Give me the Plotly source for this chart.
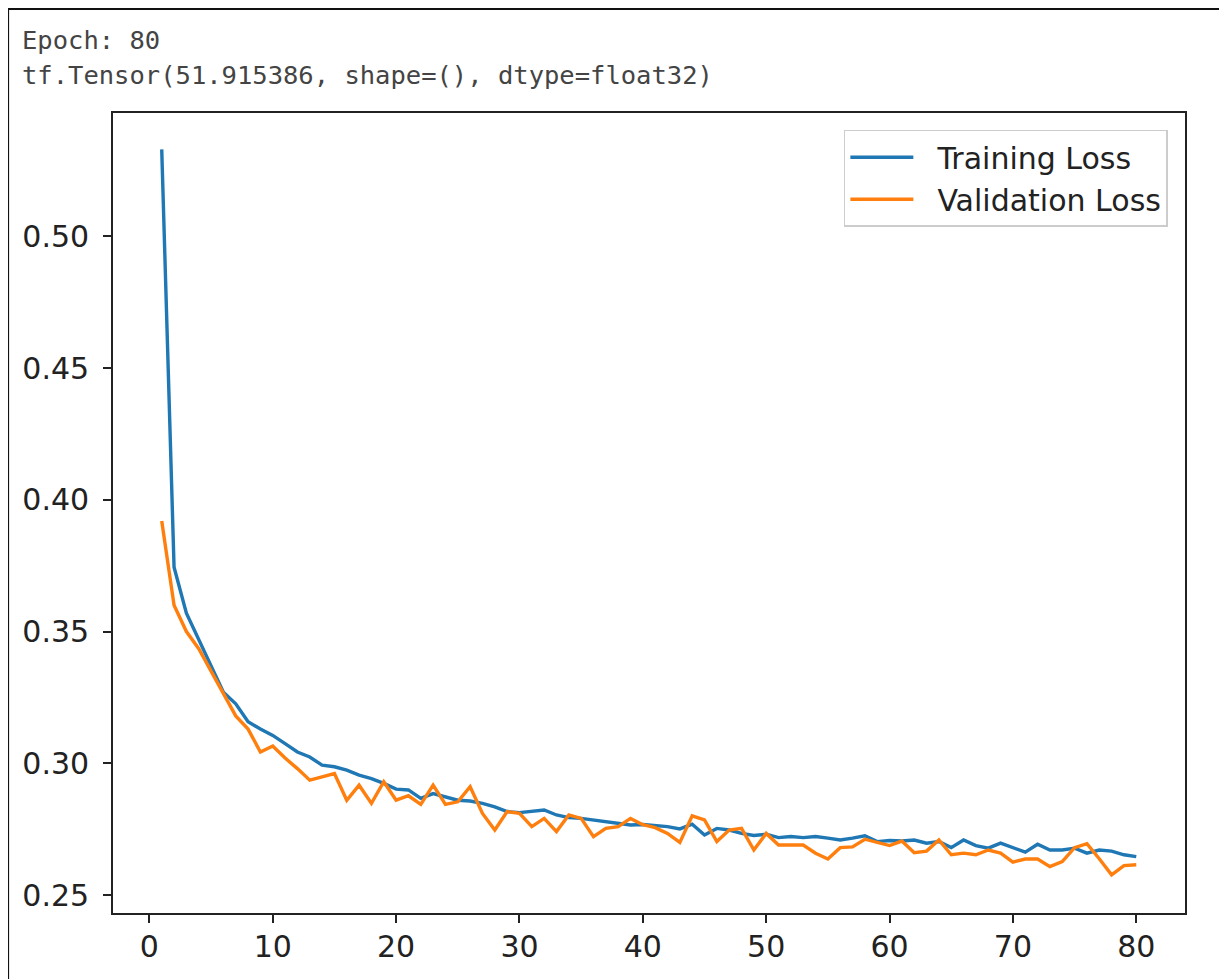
import plotly.graph_objects as go

epochs = list(range(1, 81))

training_loss = [
    0.533, 0.3744, 0.357, 0.347, 0.337, 0.327, 0.3226, 0.3158, 0.313, 0.3106,
    0.3075, 0.3043, 0.3024, 0.2993, 0.2987, 0.2974, 0.2955, 0.2942, 0.2924, 0.2902,
    0.2899, 0.2867, 0.2885, 0.2873, 0.2860, 0.2857, 0.2848, 0.2835, 0.2817, 0.2813,
    0.2817, 0.2823, 0.2804, 0.2794, 0.2791, 0.2785, 0.2779, 0.2772, 0.2766, 0.2768,
    0.2764, 0.2760, 0.2751, 0.2769, 0.2728, 0.2753, 0.2747, 0.2734, 0.2726, 0.2731,
    0.2718, 0.2722, 0.2718, 0.2722, 0.2716, 0.2709, 0.2716, 0.2725, 0.2703, 0.2707,
    0.2705, 0.2709, 0.2697, 0.2703, 0.2680, 0.2709, 0.2688, 0.2678, 0.2697, 0.2680,
    0.2663, 0.2693, 0.2671, 0.2671, 0.2678, 0.2659, 0.2671, 0.2667, 0.2653, 0.2646,
]

validation_loss = [
    0.392, 0.360, 0.350, 0.3435, 0.335, 0.3264, 0.318, 0.313, 0.3043, 0.3066,
    0.302, 0.298, 0.2936, 0.2949, 0.2961, 0.286, 0.2917, 0.2848, 0.293, 0.2860,
    0.2877, 0.2844, 0.2917, 0.2844, 0.2854, 0.2911, 0.2810, 0.2747, 0.2817, 0.2810,
    0.2760, 0.2791, 0.2741, 0.2804, 0.2791, 0.2722, 0.2753, 0.2760, 0.2791, 0.2767,
    0.2756, 0.2734, 0.2700, 0.2801, 0.2785, 0.2703, 0.2747, 0.2753, 0.2671, 0.2734,
    0.2690, 0.2690, 0.2690, 0.2659, 0.2637, 0.2680, 0.2683, 0.2712, 0.2700, 0.2688,
    0.2705, 0.2661, 0.2667, 0.2709, 0.2653, 0.2659, 0.2653, 0.2671, 0.2659, 0.2625,
    0.2637, 0.2637, 0.2608, 0.2627, 0.2680, 0.2695, 0.2638, 0.2577, 0.2612, 0.2615,
]

x_ticks = [0, 10, 20, 30, 40, 50, 60, 70, 80]
y_ticks = [0.25, 0.30, 0.35, 0.40, 0.45, 0.50]
series_names = ["Training Loss", "Validation Loss"]
header_lines = ["Epoch: 80", "tf.Tensor(51.915386, shape=(), dtype=float32)"]

pad = "\u00a0\u00a0"
fig = go.Figure()
fig.add_trace(go.Scatter(x=epochs, y=training_loss, mode="lines", name=pad + series_names[0],
                         line=dict(color="#1f77b4", width=3.4)))
fig.add_trace(go.Scatter(x=epochs, y=validation_loss, mode="lines", name=pad + series_names[1],
                         line=dict(color="#ff7f0e", width=3.4)))

tick_font = dict(family="DejaVu Sans", size=30, color="#222222")

fig.update_layout(
    width=1227, height=979,
    margin=dict(l=105, r=50, t=105, b=74),
    paper_bgcolor="white", plot_bgcolor="white",
    showlegend=True,
    legend=dict(
        x=0.984, y=0.979, xanchor="right", yanchor="top",
        bgcolor="rgba(255,255,255,0.8)", bordercolor="#cccccc", borderwidth=1.5,
        font=dict(family="DejaVu Sans", size=30, color="#222222"),
        itemwidth=63, tracegroupgap=0,
    ),
    xaxis=dict(
        range=[-2.95, 83.95], tickvals=x_ticks, ticks="outside", ticklen=8, tickwidth=1.7,
        tickcolor="#222222", showgrid=False, zeroline=False, showline=True, linecolor="#222222",
        linewidth=1.7, mirror=True, tickfont=tick_font, ticklabelstandoff=-2,
    ),
    yaxis=dict(
        range=[0.2432, 0.5468], tickvals=y_ticks, tickformat=".2f", ticks="outside", ticklen=8,
        tickwidth=1.7, tickcolor="#222222", showgrid=False, zeroline=False, showline=True,
        linecolor="#222222", linewidth=1.7, mirror=True, tickfont=tick_font, ticklabelstandoff=8,
    ),
)

# outer screenshot frame
fig.add_shape(type="rect", xref="paper", yref="paper",
              x0=(8 - 113) / 1072, x1=(1222 - 113) / 1072,
              y0=(913 - 1000) / 800, y1=(913 - 9) / 800,
              line=dict(color="#111111", width=2.2), fillcolor="rgba(0,0,0,0)", layer="below")

header_y = [40, 75]
for txt, py in zip(header_lines, header_y):
    fig.add_annotation(text=txt, xref="paper", yref="paper",
                       x=(20 - 113) / 1072, y=(913 - py) / 800,
                       xanchor="left", yanchor="middle", showarrow=False,
                       font=dict(family="DejaVu Sans Mono", size=25.5, color="#444444"))

fig.write_html("out.html")
